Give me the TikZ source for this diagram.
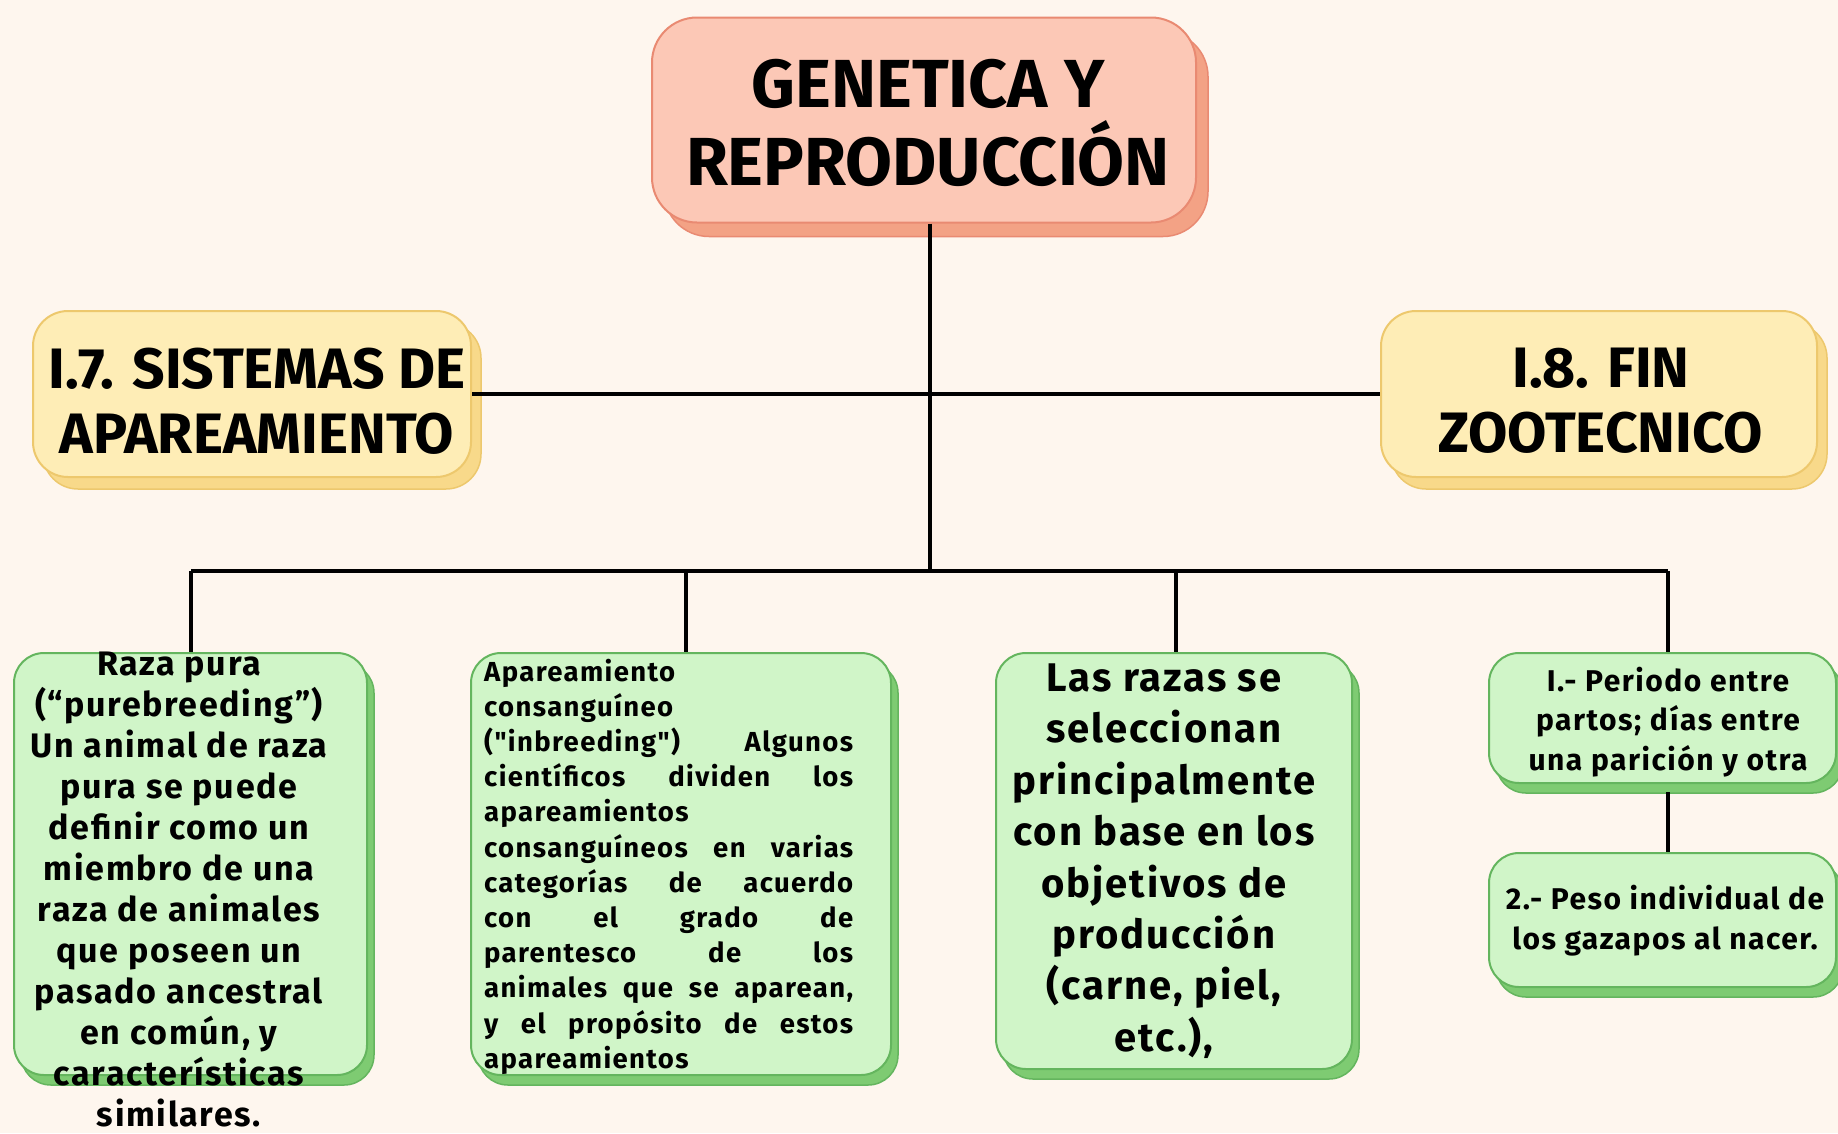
\documentclass[tikz,border=0pt]{standalone}
\usepackage{fontspec}
\setmainfont{Fira Sans}
\newfontfamily\gfont{Fira Sans}[LetterSpace=5]
\usetikzlibrary{shadows}
\definecolor{bgc}{HTML}{FEF6EE}
\definecolor{tfill}{HTML}{FCC8B6}
\definecolor{tdraw}{HTML}{E98A72}
\definecolor{tshad}{HTML}{F3A285}
\definecolor{yfill}{HTML}{FEEDB6}
\definecolor{ydraw}{HTML}{EDC86D}
\definecolor{yshad}{HTML}{F8D98A}
\definecolor{gfill}{HTML}{D0F5C8}
\definecolor{gdraw}{HTML}{64B55E}
\definecolor{gshad}{HTML}{7ECB72}
\newcommand{\jl}[1]{\makebox[369pt][s]{#1}}
\tikzset{
  titlebox/.style={draw=tdraw, fill=tfill, line width=2pt, rounded corners=45pt,
    copy shadow={shadow xshift=12pt, shadow yshift=-14pt, fill=tshad, draw=tdraw, line width=1.5pt}},
  yelbox/.style={draw=ydraw, fill=yfill, line width=2pt, rounded corners=35pt,
    copy shadow={shadow xshift=10pt, shadow yshift=-12pt, fill=yshad, draw=ydraw, line width=1.5pt}},
  grnbox/.style={draw=gdraw, fill=gfill, line width=2pt, rounded corners=30pt,
    copy shadow={shadow xshift=7pt, shadow yshift=-10pt, fill=gshad, draw=gdraw, line width=1.5pt}},
  txt/.style={inner sep=0pt, font=\bfseries, text=black},
  conn/.style={line width=4.5pt, black}
}
\begin{document}
\begin{tikzpicture}[x=1pt,y=-1pt]
\fill[bgc] (0,0) rectangle (1838,1133);
\useasboundingbox (0,0) rectangle (1838,1133);

% boxes
\node[titlebox, minimum width=544pt, minimum height=205pt] (title) at (924,120) {};
\node[yelbox, minimum width=438pt, minimum height=166pt] (sis) at (252,394) {};
\node[yelbox, minimum width=436pt, minimum height=166pt] (fin) at (1599,394) {};
\node[grnbox, minimum width=353pt, minimum height=422pt] (g1) at (190.5,864) {};
\node[grnbox, minimum width=420pt, minimum height=422pt] (g2) at (681,864) {};
\node[grnbox, minimum width=356pt, minimum height=416pt] (g3) at (1174,861) {};
\node[grnbox, minimum width=347pt, minimum height=130pt] (g4) at (1662.5,718) {};
\node[grnbox, minimum width=347pt, minimum height=134pt] (g5) at (1662.5,920) {};

% connectors
\coordinate (hub) at (930,399);
\coordinate (bus) at (930,571);
\coordinate (b1) at (191,571);
\coordinate (b2) at (686,571);
\coordinate (b3) at (1176,571);
\coordinate (b4) at (1668,571);
\draw[conn] (title.south -| hub) -- (bus);
\draw[conn] (sis.east) -- (fin.west);
\draw[conn] (b1) -- (b4);
\draw[conn] (b1) -- (b1 |- g1.north);
\draw[conn] (b2) -- (b2 |- g2.north);
\draw[conn] (b3) -- (b3 |- g3.north);
\draw[conn] (b4) -- (b4 |- g4.north);
\draw[conn] (g4.south -| b4) ++(0,8) -- (g5.north -| b4);

% texts
\node[txt, align=center, font=\bfseries\fontsize{68}{78}\selectfont] (ttitle) at (928,123) {GENETICA Y\\REPRODUCCIÓN};
\node[txt, align=center, font=\bfseries\fontsize{57}{65}\selectfont] (tsis) at (257,401) {I.7. SISTEMAS DE\\APAREAMIENTO};
\node[txt, align=center, font=\bfseries\fontsize{57}{65}\selectfont] (tfin) at (1601,401) {I.8. FIN\\ZOOTECNICO};
\node[txt, align=center, font=\gfont\bfseries\fontsize{34}{41}\selectfont] (t1) at (179,889) {Raza pura\\(“purebreeding”)\\Un animal de raza\\pura se puede\\definir como un\\miembro de una\\raza de animales\\que poseen un\\pasado ancestral\\en común, y\\características\\similares.};
\node[txt, align=left, font=\gfont\bfseries\fontsize{27.5}{35.2}\selectfont, anchor=west] (t2) at (484,866.5) {Apareamiento\\consanguíneo\\\jl{("inbreeding") Algunos}\\\jl{científicos dividen los}\\apareamientos\\\jl{consanguíneos en varias}\\\jl{categorías de acuerdo}\\\jl{con el grado de}\\\jl{parentesco de los}\\\jl{animales que se aparean,}\\\jl{y el propósito de estos}\\apareamientos};
\node[txt, align=center, font=\gfont\bfseries\fontsize{40}{51.4}\selectfont] (t3) at (1164,861) {Las razas se\\seleccionan\\principalmente\\con base en los\\objetivos de\\producción\\(carne, piel,\\etc.),};
\node[txt, align=center, font=\gfont\bfseries\fontsize{30}{39.5}\selectfont] (t4) at (1668,722) {I.- Periodo entre\\partos; días entre\\una parición y otra};
\node[txt, align=center, font=\gfont\bfseries\fontsize{30}{39.5}\selectfont] (t5) at (1665,920.5) {2.- Peso individual de\\los gazapos al nacer.};
\end{tikzpicture}
\end{document}
